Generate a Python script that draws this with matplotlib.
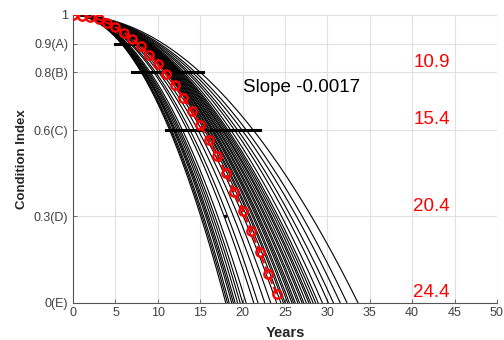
import numpy as np
import matplotlib
matplotlib.use("Agg")
import matplotlib.pyplot as plt

plt.rcParams['font.family'] = ['Liberation Sans', 'DejaVu Sans']

# mean condition curve (red circles), one point per year
mean_years = list(range(25))
mean_ci = [1.000, 0.998, 0.993, 0.985, 0.973, 0.958, 0.939, 0.917, 0.891, 0.862,
           0.830, 0.794, 0.755, 0.713, 0.667, 0.618, 0.565, 0.509, 0.449, 0.386,
           0.320, 0.250, 0.177, 0.101, 0.030]

# year where each simulated (black) curve reaches 0(E)
curve_end_years = [18.0, 18.2, 18.4, 18.7, 18.9, 19.1, 19.4, 19.7, 20.0, 20.4,
                   21.3, 21.8, 22.6, 23.3,
                   24.0, 24.5, 24.8, 25.0, 25.3, 25.5, 25.8, 26.0, 26.2, 26.5,
                   26.7, 27.0, 27.2, 27.5, 27.8, 28.0, 28.3, 28.6, 28.9,
                   29.4, 30.1, 30.7, 31.5, 32.3, 33.6]
curve_power = 2.0

# horizontal spread bars at each condition level
bar_levels = [0.9, 0.8, 0.6]
bar_start = [4.9, 7.0, 11.0]
bar_end = [9.2, 15.3, 22.0]

# mean years to reach each condition
label_texts = ['10.9', '15.4', '20.4', '24.4']
label_y = [0.835, 0.635, 0.335, 0.035]

yticks = [0, 0.3, 0.6, 0.8, 0.9, 1]
ytick_labels = ['0(E)', '0.3(D)', '0.6(C)', '0.8(B)', '0.9(A)', '1']
xticks = list(range(0, 51, 5))

fig = plt.figure(figsize=(5.04, 3.4), dpi=100)
ax = fig.add_axes([0.145, 0.110, 0.841, 0.846])

for T in curve_end_years:
    t = np.linspace(0, T, 200)
    ax.plot(t, 1 - (t / T) ** curve_power, color='black', lw=0.8, zorder=2)

for lv, a, b in zip(bar_levels, bar_start, bar_end):
    ax.plot([a, b], [lv, lv], color='black', lw=2.2, zorder=3)

ax.plot([17.9], [0.30], marker='.', color='black', ms=3, zorder=3)

ax.plot(mean_years, mean_ci, '--', color='red', lw=1.5, zorder=4)
ax.plot(mean_years, mean_ci, 'o', mec='red', mfc='none', mew=1.7, ms=6, zorder=5)

for s, y in zip(label_texts, label_y):
    ax.text(42.3, y, s, color='red', fontsize=13.5, ha='center', va='center')
ax.text(20.0, 0.747, 'Slope -0.0017', fontsize=13.5, color='black', va='center')

ax.set_xlim(0, 50)
ax.set_ylim(0, 1)
ax.set_xticks(xticks)
ax.set_yticks(yticks)
ax.set_yticklabels(ytick_labels)
ax.tick_params(direction='in', length=3, labelsize=9, colors='#555555',
               labelcolor='#404040', width=0.6)
ax.grid(True, color='#e0e0e0', lw=0.8)
ax.set_axisbelow(True)
for sp in ['top', 'right']:
    ax.spines[sp].set_visible(False)
for sp in ['left', 'bottom']:
    ax.spines[sp].set_color('#555555')
    ax.spines[sp].set_linewidth(0.8)

ax.set_xlabel('Years', fontsize=10.5, fontweight='bold', color='#262626', labelpad=5)
ax.set_ylabel('Condition Index', fontsize=9.5, fontweight='bold', color='#262626', labelpad=4)

fig.savefig('out.png', dpi=100)
